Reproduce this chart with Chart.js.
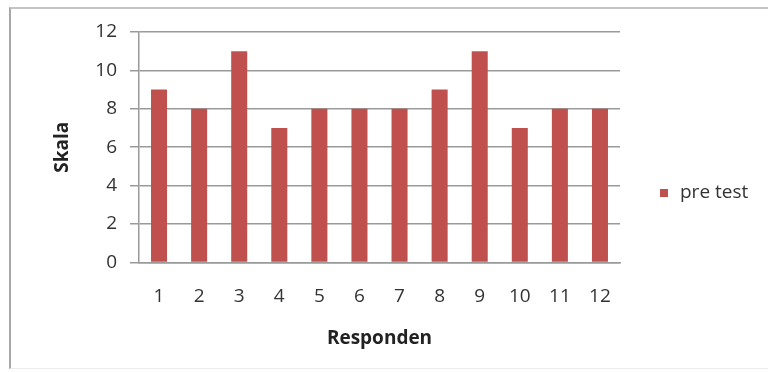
<!DOCTYPE html>
<html>
<head>
<meta charset="utf-8">
<script src="https://cdn.jsdelivr.net/npm/chart.js@4/dist/chart.umd.min.js"></script>
<style>
  html, body { margin: 0; padding: 0; background: #fff; }
  #wrap { position: relative; width: 768px; height: 372px; overflow: hidden; }
  #frame {
    position: absolute; left: 9px; top: 7px; width: 800px; height: 362px;
    border-left: 2px solid #a8a8a8; border-top: 2px solid #c4c4c4;
    border-bottom: 1px solid #ececec; box-sizing: border-box;
  }
  canvas { position: absolute; left: 0; top: 0; }
</style>
</head>
<body>
<div id="wrap">
  <div id="frame"></div>
  <canvas id="chart" width="768" height="372"></canvas>
</div>
<script>
// Skor pre test per responden
const responden = ['1', '2', '3', '4', '5', '6', '7', '8', '9', '10', '11', '12'];
const preTest = [9, 8, 11, 7, 8, 8, 8, 9, 11, 7, 8, 8];
const skalaTicks = [0, 2, 4, 6, 8, 10, 12];

const fontFamily = '"Open Sans", "Noto Sans", sans-serif';

// Legenda di sisi kanan, di tengah tinggi kanvas
const sideLegend = {
    id: 'sideLegend',
    afterDraw(chart) {
        const c = chart.ctx;
        const ds = chart.data.datasets[0];
        const x = chart.chartArea.right + 40;
        const y = (chart.height / 2) + 7;
        c.save();
        c.fillStyle = ds.backgroundColor;
        c.fillRect(x, y - 4, 8, 8);
        c.fillStyle = '#333';
        c.font = '19px ' + fontFamily;
        c.textBaseline = 'middle';
        c.fillText(ds.label, x + 20, y);
        c.restore();
    }
};

const ctx = document.getElementById('chart');

new Chart(ctx, {
    type: 'bar',
    data: {
        labels: responden,
        datasets: [{
            label: 'pre test',
            data: preTest,
            backgroundColor: '#c0504d',
            borderWidth: 0,
            categoryPercentage: 1,
            barPercentage: 0.4
        }]
    },
    options: {
        responsive: false,
        animation: false,
        layout: {
            padding: { left: 40, right: 148, top: 32, bottom: 18 }
        },
        plugins: {
            legend: { display: false },
            tooltip: { enabled: false }
        },
        scales: {
            x: {
                grid: { display: false, drawTicks: false },
                border: { display: true, color: '#9a9a9a', width: 1.5 },
                ticks: {
                    color: '#333',
                    padding: 23,
                    font: { family: fontFamily, size: 19 }
                },
                title: {
                    display: true,
                    text: 'Responden',
                    color: '#222',
                    padding: { top: -4, bottom: 4 },
                    font: { family: fontFamily, size: 19, weight: 'bold' }
                }
            },
            y: {
                min: 0,
                max: 12,
                afterBuildTicks: function(scale) {
                    scale.ticks = skalaTicks.map(v => ({ value: v }));
                },
                afterFit: function(scale) {
                    scale.width = 99;
                },
                grid: {
                    color: '#9a9a9a',
                    lineWidth: 1.5,
                    tickLength: 9
                },
                border: { display: true, color: '#9a9a9a', width: 1.5 },
                ticks: {
                    color: '#333',
                    padding: 13,
                    font: { family: fontFamily, size: 19 }
                },
                title: {
                    display: true,
                    text: 'Skala',
                    color: '#222',
                    padding: { top: 11, bottom: 0 },
                    font: { family: fontFamily, size: 19, weight: 'bold' }
                }
            }
        }
    },
    plugins: [sideLegend]
});
</script>
</body>
</html>
